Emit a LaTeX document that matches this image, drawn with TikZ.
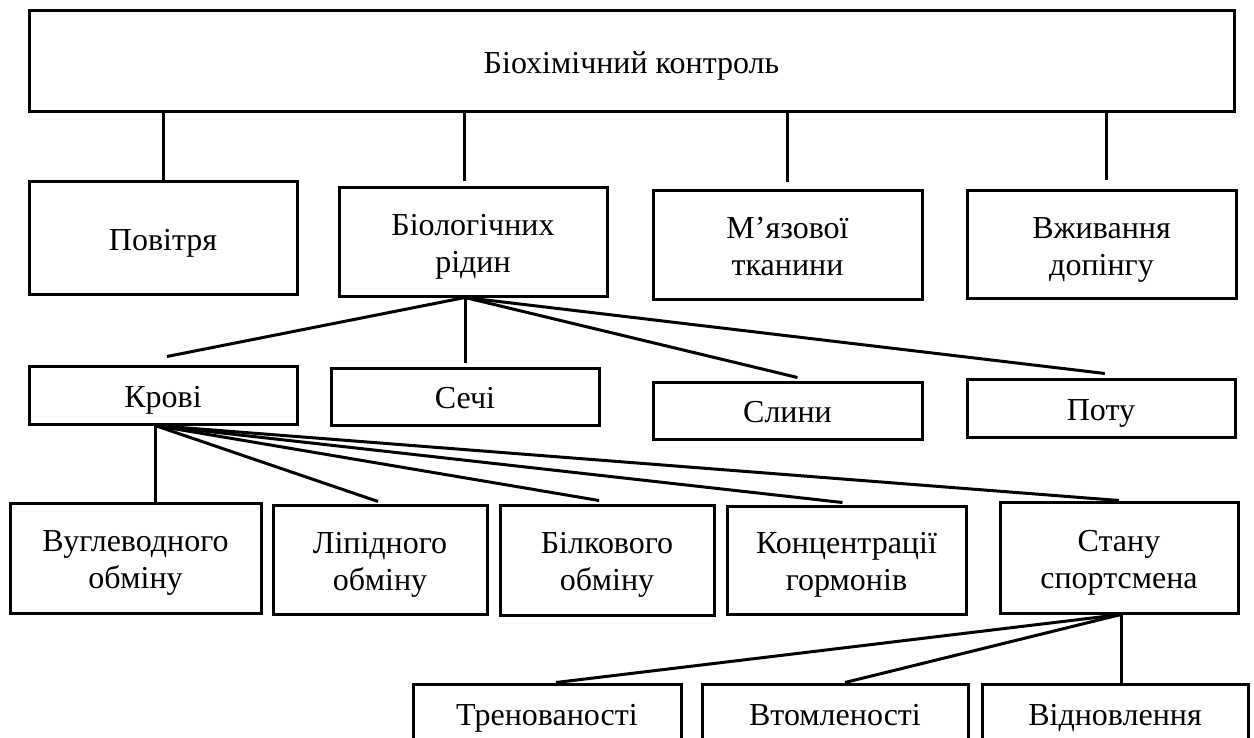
\documentclass[tikz,border=0pt]{standalone}
\usepackage{fontspec}
\setmainfont{Liberation Serif}
\usetikzlibrary{calc}
\newcommand{\mytop}{\rule{0pt}{16.5pt}}
\newcommand{\mybot}{\rule[-4.5pt]{0pt}{0pt}}
\tikzset{
  bx/.style={draw, line width=1.5pt, align=center, inner sep=0pt,
    font=\fontsize{16pt}{18.5pt}\selectfont},
  ln/.style={line width=1.5pt}
}
\begin{document}
\begin{tikzpicture}[x=0.5pt,y=-0.5pt]
\clip (0,0) rectangle (1254,738);
% top
\node[bx, minimum width=602.5pt, minimum height=50.5pt] (top) at (631.5,61.5) {\mytop Біохімічний контроль\mybot};
% row 2
\node[bx, minimum width=134pt, minimum height=56pt] (pov) at (163,238) {\mytop Повітря\mybot};
\node[bx, minimum width=134pt, minimum height=54pt] (bio) at (473,242) {\mytop Біологічних\\рідин\mybot};
\node[bx, minimum width=134.5pt, minimum height=54pt] (myaz) at (787.5,245) {\mytop М’язової\\тканини\mybot};
\node[bx, minimum width=134.5pt, minimum height=53.5pt] (vzh) at (1101.5,244.5) {\mytop Вживання\\допінгу\mybot};
% row 3
\node[bx, minimum width=134pt, minimum height=29pt] (krovi) at (163,395) {\mytop Крові\mybot};
\node[bx, minimum width=134pt, minimum height=28.5pt] (sechi) at (465,396.5) {\mytop Сечі\mybot};
\node[bx, minimum width=134.5pt, minimum height=28.5pt] (slyny) at (787.5,410.5) {\mytop Слини\mybot};
\node[bx, minimum width=134pt, minimum height=29pt] (potu) at (1101,408) {\mytop Поту\mybot};
% row 4
\node[bx, minimum width=125.5pt, minimum height=55pt] (vugl) at (135.5,558) {\mytop Вуглеводного\\обміну\mybot};
\node[bx, minimum width=107pt, minimum height=54.5pt] (lip) at (380,559.5) {\mytop Ліпідного\\обміну\mybot};
\node[bx, minimum width=107pt, minimum height=55pt] (bilk) at (607,560) {\mytop Білкового\\обміну\mybot};
\node[bx, minimum width=119.5pt, minimum height=54pt] (konc) at (846.5,560) {\mytop Концентрації\\гормонів\mybot};
\node[bx, minimum width=119pt, minimum height=55.5pt] (stanu) at (1119,557.5) {\mytop Стану\\спортсмена\mybot};
% row 5
\node[bx, minimum width=134pt, minimum height=29pt] (tren) at (547,713) {\mytop Тренованості\mybot};
\node[bx, minimum width=133pt, minimum height=29pt] (vtom) at (835,713) {\mytop Втомленості\mybot};
\node[bx, minimum width=133pt, minimum height=29pt] (vidn) at (1115,713) {\mytop Відновлення\mybot};
% connectors from top
\draw[ln] (pov.north) -- (pov.north |- top.south);
\draw[ln, shorten <=2.5pt] ([xshift=-4.5pt]bio.north) -- ([xshift=-4.5pt]bio.north |- top.south);
\draw[ln, shorten <=3.5pt] (myaz.north) -- (myaz.north |- top.south);
\draw[ln, shorten <=4.5pt] ([xshift=2.25pt]vzh.north) -- ([xshift=2.25pt]vzh.north |- top.south);
% from bio
\coordinate (bA) at ([xshift=-4pt]bio.south);
\draw[ln] (bA) -- ([shift={(2pt,4pt)}]krovi.north);
\draw[ln, shorten >=2pt] (bA) -- (bA |- sechi.north);
\draw[ln] (bA) -- ([shift={(5pt,1.5pt)}]slyny.north);
\draw[ln] (bA) -- ([shift={(2pt,2pt)}]potu.north);
% from krovi
\coordinate (kA) at ([xshift=-4pt]krovi.south);
\draw[ln] (kA) -- (kA |- vugl.north);
\draw[ln] (kA) -- ([shift={(-1pt,1pt)}]lip.north);
\draw[ln] (kA) -- ([shift={(-4pt,1.5pt)}]bilk.north);
\draw[ln] (kA) -- ([shift={(-2pt,1pt)}]konc.north);
\draw[ln] (kA) -- (stanu.north);
% from stanu
\coordinate (sA) at ([xshift=1pt]stanu.south);
\draw[ln] (sA) -- ([xshift=4.5pt]tren.north);
\draw[ln] (sA) -- ([xshift=5pt]vtom.north);
\draw[ln] (sA) -- (sA |- vidn.north);
\end{tikzpicture}
\end{document}
